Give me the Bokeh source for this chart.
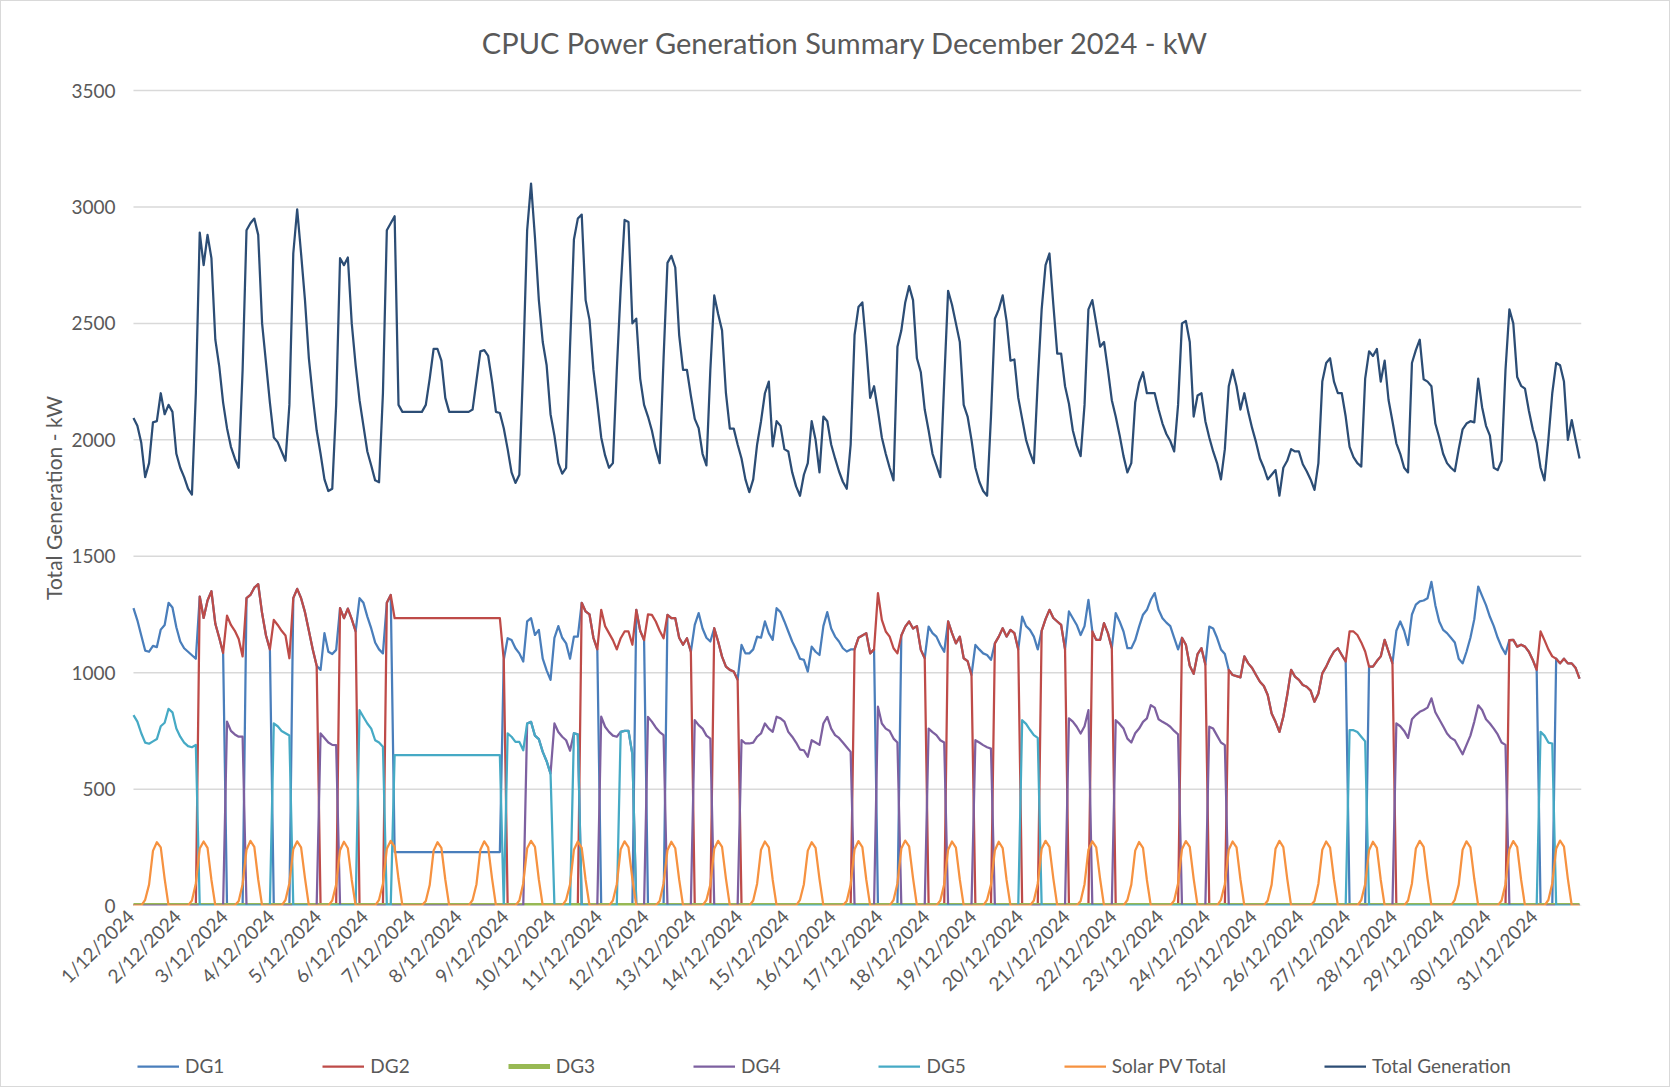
import math
from bokeh.plotting import figure
from bokeh.models import ColumnDataSource, Range1d, Legend, LegendItem
from bokeh.embed import file_html
from bokeh.resources import INLINE

# ---------------- data (2-hourly readings, 1-31 Dec 2024) ----------------
title_text = "CPUC Power Generation Summary December 2024 - kW"
y_title = "Total Generation - kW"
tick_labels = [f"{d}/12/2024" for d in range(1, 32)]
tick_hours = [24 * i for i in range(31)]
y_ticks = [0, 500, 1000, 1500, 2000, 2500, 3000, 3500]
hours = list(range(0, 744, 2))

total_generation = [
    2094,2060,1987,1840,1900,2075,2080,2200,2110,2150,2120,1940,
    1880,1840,1790,1765,2200,2890,2750,2880,2780,2430,2316,2160,
    2050,1970,1920,1880,2300,2900,2930,2950,2880,2500,2330,2160,
    2010,1990,1950,1910,2150,2800,2990,2800,2600,2350,2186,2040,
    1940,1830,1780,1790,2150,2780,2750,2783,2500,2320,2170,2060,
    1950,1890,1826,1818,2200,2900,2930,2960,2150,2120,2120,2120,
    2120,2120,2120,2150,2263,2390,2390,2340,2180,2120,2120,2120,
    2120,2120,2120,2130,2255,2380,2385,2360,2250,2120,2115,2050,
    1960,1860,1815,1850,2330,2900,3100,2870,2600,2420,2320,2110,
    2018,1900,1855,1880,2400,2860,2950,2967,2600,2515,2300,2160,
    2010,1933,1880,1900,2300,2650,2944,2935,2500,2520,2263,2150,
    2100,2040,1960,1900,2350,2760,2790,2740,2450,2300,2300,2190,
    2090,2050,1940,1890,2300,2620,2540,2470,2200,2048,2048,1980,
    1920,1830,1775,1830,1980,2080,2200,2250,1972,2080,2060,1960,
    1950,1860,1800,1760,1850,1900,2080,2000,1860,2100,2080,1980,
    1920,1865,1820,1790,1980,2450,2570,2590,2400,2180,2230,2125,
    2010,1940,1880,1826,2400,2470,2590,2660,2600,2350,2290,2130,
    2040,1940,1890,1840,2250,2640,2580,2500,2420,2150,2100,2000,
    1880,1820,1780,1760,2100,2520,2560,2620,2510,2340,2345,2180,
    2090,2000,1945,1900,2250,2560,2750,2800,2580,2370,2370,2230,
    2155,2040,1975,1930,2150,2560,2600,2500,2400,2420,2300,2170,
    2100,2020,1930,1860,1900,2160,2245,2290,2200,2200,2200,2130,
    2070,2025,1995,1950,2150,2500,2510,2420,2100,2190,2200,2080,
    2010,1950,1900,1830,1960,2230,2300,2230,2130,2200,2120,2050,
    1990,1920,1880,1830,1850,1870,1760,1880,1910,1960,1950,1950,
    1895,1865,1830,1785,1900,2250,2330,2350,2250,2200,2200,2100,
    1970,1926,1900,1885,2263,2380,2360,2390,2250,2340,2171,2080,
    1985,1940,1880,1860,2330,2385,2430,2260,2250,2230,2070,2010,
    1940,1900,1880,1865,1960,2045,2070,2080,2075,2263,2140,2060,
    2018,1880,1870,1910,2300,2560,2500,2270,2232,2220,2125,2045,
    1987,1880,1826,2000,2200,2330,2320,2250,2000,2085,2000,1920,
]

dg1 = [
    1277,1225,1160,1095,1090,1115,1110,1185,1205,1300,1280,1195,
    1134,1105,1090,1075,1060,1327,1235,1310,1350,1210,1150,1085,
    0,0,0,0,0,1320,1334,1365,1380,1255,1160,1100,
    0,0,0,0,0,1320,1360,1320,1260,1180,1100,1030,
    1012,1170,1090,1080,1098,1277,1234,1275,1230,1177,1320,1300,
    1241,1190,1130,1100,1083,1300,1334,230,230,230,230,230,
    230,230,230,230,230,230,230,230,230,230,230,230,
    230,230,230,230,230,230,230,230,230,230,230,1055,
    1148,1140,1105,1083,1048,1220,1234,1162,1184,1060,1010,969,
    1150,1200,1150,1126,1060,1155,1155,1300,1263,1250,1150,1100,
    0,0,0,0,0,0,0,0,0,1270,1180,1140,
    0,0,0,0,0,1248,1234,1234,1150,1120,1148,1090,
    1205,1256,1190,1150,1134,1191,1134,1069,1026,1012,1005,970,
    1119,1083,1083,1100,1155,1150,1220,1170,1141,1277,1260,1220,
    1177,1134,1100,1060,1055,1005,1112,1090,1076,1200,1260,1190,
    1155,1134,1105,1091,1100,1100,1150,1160,1170,1083,1100,0,
    0,0,0,0,0,1160,1198,1220,1190,1200,1098,1062,
    1198,1170,1155,1119,1090,1220,1170,1126,1155,1062,1050,990,
    1119,1100,1083,1076,1055,1126,1155,1191,1155,1184,1170,1100,
    1241,1200,1184,1155,1100,1180,1230,1270,1235,1220,1205,1100,
    1263,1234,1205,1162,1200,1313,1177,1141,1141,1213,1170,1105,
    1256,1220,1177,1105,1105,1140,1198,1249,1270,1313,1342,1270,
    1234,1215,1200,1150,1100,1150,1120,1030,995,1080,1105,1035,
    1198,1190,1150,1100,1080,1012,990,985,980,1070,1040,1020,
    990,961,943,904,825,789,746,811,904,1012,983,969,
    947,940,923,875,911,997,1026,1062,1091,1105,1076,1048,
    0,0,0,0,0,1026,1026,1050,1070,1141,1090,1040,
    1180,1220,1180,1119,1250,1292,1306,1310,1320,1390,1290,1220,
    1184,1170,1150,1130,1060,1040,1090,1150,1230,1370,1330,1290,
    1240,1200,1150,1110,1080,1140,1141,1112,1120,1112,1090,1055,
    1012,0,0,0,0,1060,1040,1060,1040,1040,1020,975,
]

dg2 = [
    0,0,0,0,0,0,0,0,0,0,0,0,
    0,0,0,0,0,1327,1235,1310,1350,1210,1150,1085,
    1245,1205,1180,1145,1070,1320,1334,1365,1380,1255,1160,1100,
    1227,1205,1180,1160,1062,1320,1360,1320,1260,1180,1100,1030,
    0,0,0,0,0,1277,1234,1275,1230,1177,0,0,
    0,0,0,0,0,1300,1334,1234,1234,1234,1234,1234,
    1234,1234,1234,1234,1234,1234,1234,1234,1234,1234,1234,1234,
    1234,1234,1234,1234,1234,1234,1234,1234,1234,1234,1234,1055,
    0,0,0,0,0,0,0,0,0,0,0,0,
    0,0,0,0,0,0,0,1300,1263,1250,1150,1100,
    1270,1200,1170,1140,1100,1148,1177,1177,1120,1270,1180,1140,
    1250,1248,1220,1180,1148,1248,1234,1234,1150,1120,1148,1090,
    0,0,0,0,0,1191,1134,1069,1026,1012,1005,970,
    0,0,0,0,0,0,0,0,0,0,0,0,
    0,0,0,0,0,0,0,0,0,0,0,0,
    0,0,0,0,0,1100,1150,1160,1170,1083,1100,1342,
    1227,1177,1155,1105,1083,1160,1198,1220,1190,1200,1098,1062,
    0,0,0,0,0,1220,1170,1126,1155,1062,1050,990,
    0,0,0,0,0,1126,1155,1191,1155,1184,1170,1100,
    0,0,0,0,0,1180,1230,1270,1235,1220,1205,1100,
    0,0,0,0,0,0,1177,1141,1141,1213,1170,1105,
    0,0,0,0,0,0,0,0,0,0,0,0,
    0,0,0,0,0,1150,1120,1030,995,1080,1105,1035,
    0,0,0,0,0,1012,990,985,980,1070,1040,1020,
    990,961,943,904,825,789,746,811,904,1012,983,969,
    947,940,923,875,911,997,1026,1062,1091,1105,1076,1048,
    1177,1177,1162,1130,1091,1026,1026,1050,1070,1141,1090,1040,
    0,0,0,0,0,0,0,0,0,0,0,0,
    0,0,0,0,0,0,0,0,0,0,0,0,
    0,0,0,0,0,1140,1141,1112,1120,1112,1090,1055,
    1012,1177,1140,1100,1070,1060,1040,1060,1040,1040,1020,975,
]

dg3 = [0] * 372

dg4 = [
    0,0,0,0,0,0,0,0,0,0,0,0,
    0,0,0,0,0,0,0,0,0,0,0,0,
    790,750,735,725,725,0,0,0,0,0,0,0,
    0,0,0,0,0,0,0,0,0,0,0,0,
    739,720,700,690,689,0,0,0,0,0,0,0,
    0,0,0,0,0,0,0,0,0,0,0,0,
    0,0,0,0,0,0,0,0,0,0,0,0,
    0,0,0,0,0,0,0,0,0,0,0,0,
    0,0,0,0,0,782,789,730,715,660,620,567,
    782,745,725,710,665,740,735,0,0,0,0,0,
    811,768,746,730,725,746,750,750,650,0,0,0,
    810,790,765,745,732,0,0,0,0,0,0,0,
    796,775,760,730,717,0,0,0,0,0,0,0,
    710,696,696,700,725,739,782,760,746,811,804,790,
    746,725,700,670,667,639,710,700,690,782,810,760,
    732,720,700,680,660,0,0,0,0,0,0,854,
    782,760,750,717,700,0,0,0,0,0,0,0,
    760,745,732,710,700,0,0,0,0,0,0,0,
    710,700,689,680,674,0,0,0,0,0,0,0,
    0,0,0,0,0,0,0,0,0,0,0,0,
    804,790,768,739,770,839,0,0,0,0,0,0,
    796,780,760,717,700,740,760,789,804,861,850,800,
    789,780,768,750,735,0,0,0,0,0,0,0,
    768,760,730,700,689,0,0,0,0,0,0,0,
    0,0,0,0,0,0,0,0,0,0,0,0,
    0,0,0,0,0,0,0,0,0,0,0,0,
    0,0,0,0,0,0,0,0,0,0,0,0,
    782,770,750,720,800,818,832,840,850,890,830,800,
    770,739,720,710,680,650,690,730,790,860,840,800,
    782,760,735,700,690,0,0,0,0,0,0,0,
    0,0,0,0,0,0,0,0,0,0,0,0,
]

dg5 = [
    818,790,740,700,695,705,715,770,785,845,830,760,
    725,700,685,680,690,0,0,0,0,0,0,0,
    0,0,0,0,0,0,0,0,0,0,0,0,
    782,770,750,740,730,0,0,0,0,0,0,0,
    0,0,0,0,0,0,0,0,0,0,839,810,
    782,760,710,700,682,0,0,646,646,646,646,646,
    646,646,646,646,646,646,646,646,646,646,646,646,
    646,646,646,646,646,646,646,646,646,646,646,0,
    739,725,703,703,667,782,789,730,715,660,620,567,
    0,0,0,0,0,740,735,0,0,0,0,0,
    0,0,0,0,0,746,750,750,650,0,0,0,
    0,0,0,0,0,0,0,0,0,0,0,0,
    0,0,0,0,0,0,0,0,0,0,0,0,
    0,0,0,0,0,0,0,0,0,0,0,0,
    0,0,0,0,0,0,0,0,0,0,0,0,
    0,0,0,0,0,0,0,0,0,0,0,0,
    0,0,0,0,0,0,0,0,0,0,0,0,
    0,0,0,0,0,0,0,0,0,0,0,0,
    0,0,0,0,0,0,0,0,0,0,0,0,
    796,780,755,732,720,0,0,0,0,0,0,0,
    0,0,0,0,0,0,0,0,0,0,0,0,
    0,0,0,0,0,0,0,0,0,0,0,0,
    0,0,0,0,0,0,0,0,0,0,0,0,
    0,0,0,0,0,0,0,0,0,0,0,0,
    0,0,0,0,0,0,0,0,0,0,0,0,
    0,0,0,0,0,0,0,0,0,0,0,0,
    753,753,745,725,705,0,0,0,0,0,0,0,
    0,0,0,0,0,0,0,0,0,0,0,0,
    0,0,0,0,0,0,0,0,0,0,0,0,
    0,0,0,0,0,0,0,0,0,0,0,0,
    0,746,730,700,696,0,0,0,0,0,0,0,
]

solar_pv = [
    0,0,0,25,90,235,272,250,115,0,0,0,
    0,0,0,22,95,245,275,248,110,0,0,0,
    0,0,0,20,92,240,278,252,112,0,0,0,
    0,0,0,24,96,242,276,250,118,0,0,0,
    0,0,0,22,90,238,274,246,110,0,0,0,
    0,0,0,25,94,244,278,252,114,0,0,0,
    0,0,0,20,88,236,272,248,112,0,0,0,
    0,0,0,24,92,240,276,250,116,0,0,0,
    0,0,0,22,95,246,278,252,112,0,0,0,
    0,0,0,25,90,240,275,248,110,0,0,0,
    0,0,0,22,92,242,276,250,114,0,0,0,
    0,0,0,20,95,238,274,246,112,0,0,0,
    0,0,0,24,90,244,278,252,116,0,0,0,
    0,0,0,22,94,240,275,250,110,0,0,0,
    0,0,0,25,92,236,272,248,114,0,0,0,
    0,0,0,20,90,242,277,251,112,0,0,0,
    0,0,0,24,95,245,279,254,118,0,0,0,
    0,0,0,22,92,240,275,249,112,0,0,0,
    0,0,0,25,90,238,274,247,110,0,0,0,
    0,0,0,22,94,244,278,252,116,0,0,0,
    0,0,0,20,92,240,276,250,114,0,0,0,
    0,0,0,24,90,236,273,248,110,0,0,0,
    0,0,0,22,95,242,277,252,115,0,0,0,
    0,0,0,25,92,240,275,250,112,0,0,0,
    0,0,0,22,90,244,278,251,116,0,0,0,
    0,0,0,20,94,240,275,249,112,0,0,0,
    0,0,0,24,92,238,274,248,110,0,0,0,
    0,0,0,22,95,245,278,252,116,0,0,0,
    0,0,0,25,90,240,276,250,114,0,0,0,
    0,0,0,22,92,242,277,251,112,0,0,0,
    0,0,0,24,95,244,279,253,115,0,0,0,
]

for name, arr in [("total", total_generation), ("dg1", dg1), ("dg2", dg2),
                  ("dg4", dg4), ("dg5", dg5), ("solar", solar_pv)]:
    if len(arr) != len(hours):
        raise ValueError(f"{name} has {len(arr)} values, expected {len(hours)}")

# ---------------- figure ----------------
FONT = "Lato"
GREY = "#595959"
X_MIN, X_MAX = -63.1, 743     # room left of hour 0 for the value labels
Y_MIN, Y_MAX = -764, 3865     # room under 0 (dates, legend) and above 3500 (title)

src = ColumnDataSource(dict(x=hours, dg1=dg1, dg2=dg2, dg3=dg3, dg4=dg4,
                            dg5=dg5, solar=solar_pv, total=total_generation))

p = figure(frame_width=1571, frame_height=1078, output_backend="svg",
           toolbar_location=None, title=None,
           x_axis_location=None, y_axis_location=None,
           x_range=Range1d(X_MIN, X_MAX), y_range=Range1d(Y_MIN, Y_MAX),
           min_border_left=9, min_border_right=88, min_border_top=4,
           min_border_bottom=3, background_fill_color="white",
           border_fill_color="white")
p.styles = {"border": "1px solid #D9D9D9"}
p.outline_line_color = None
p.xgrid.visible = False
p.ygrid.visible = False

# horizontal gridlines across the plot area (hour 0 to the end of the month)
p.segment(x0=[0] * len(y_ticks), x1=[X_MAX] * len(y_ticks), y0=y_ticks,
          y1=y_ticks, line_color="#D9D9D9", line_width=1.5)

series = [
    ("DG1", "dg1", "#4A7EBB", 2.25),
    ("DG2", "dg2", "#BE4B48", 2.25),
    ("DG3", "dg3", "#98B954", 5),
    ("DG4", "dg4", "#7D60A0", 2.25),
    ("DG5", "dg5", "#46AAC5", 2.25),
    ("Solar PV Total", "solar", "#F69240", 2.25),
    ("Total Generation", "total", "#2C4D75", 2.25),
]
items = []
for label, col, color, lw in series:
    r = p.line("x", col, source=src, line_color=color, line_width=lw,
               line_join="round")
    items.append(LegendItem(label=label, renderers=[r]))

# white band below the zero line (plot-area edge of the original chart)
p.quad(left=[X_MIN - 20], right=[X_MAX + 20], bottom=[Y_MIN - 50], top=[0],
       fill_color="white", line_color=None)

# value-axis labels
p.text(x=[0] * len(y_ticks), y=y_ticks, text=[str(v) for v in y_ticks],
       x_offset=-18, text_align="right", text_baseline="middle",
       text_font_size="19px", text_color=GREY, text_font={"value": FONT})

# value-axis title
p.text(x=[0], y=[1750], text=[y_title], x_offset=-80, angle=math.pi / 2,
       text_align="center", text_baseline="middle",
       text_font_size="21px", text_color=GREY, text_font={"value": FONT})

# date labels under the zero line, at the daily ticks
lab_src = ColumnDataSource(dict(x=tick_hours, y=[-30] * len(tick_hours),
                                text=tick_labels))
p.text("x", "y", text="text", source=lab_src, angle=math.pi / 4,
       text_align="right", text_baseline="middle", x_offset=-3,
       text_font_size="19px", text_color=GREY, text_font={"value": FONT})

# chart title
p.text(x=[365.3], y=[3706], text=[title_text], text_align="center",
       text_baseline="middle", text_font_size="29px", text_color=GREY,
       text_font={"value": FONT})

legend = Legend(items=items, orientation="horizontal", location=(127, 6),
                label_text_font=FONT, label_text_font_size="19px",
                label_text_color=GREY, glyph_width=42, glyph_height=20,
                label_standoff=6, spacing=98, border_line_color=None,
                background_fill_alpha=0, margin=0, padding=4)
p.add_layout(legend, "center")

open("out.html", "w").write(file_html(p, INLINE))
